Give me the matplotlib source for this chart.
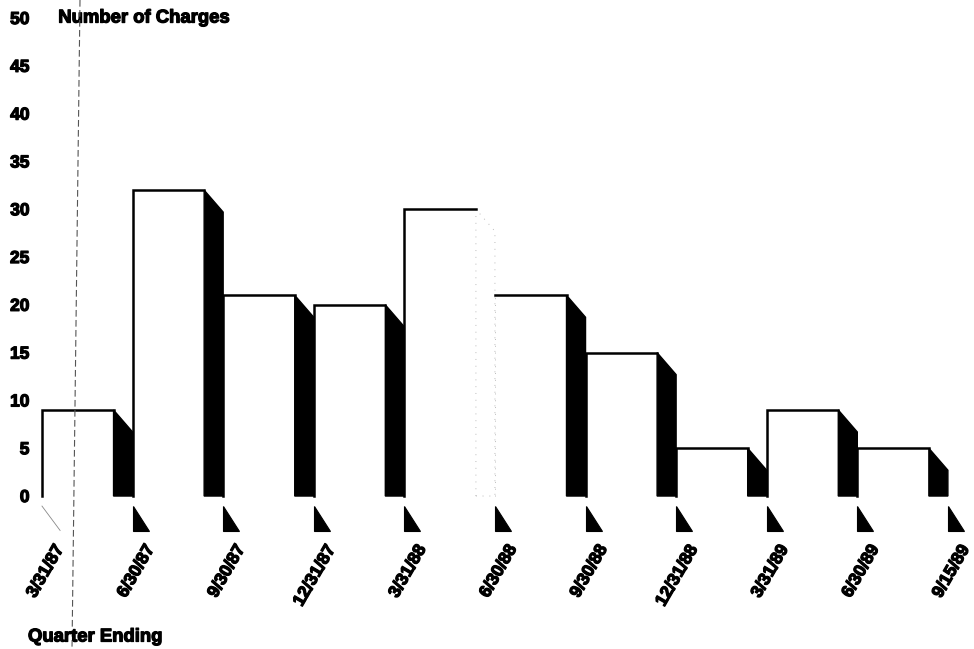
import matplotlib.pyplot as plt
import matplotlib.patheffects as pe
from matplotlib.lines import Line2D
from matplotlib.patches import Polygon

quarters = ['3/31/87', '6/30/87', '9/30/87', '12/31/87', '3/31/88', '6/30/88',
            '9/30/88', '12/31/88', '3/31/89', '6/30/89', '9/15/89']
charges = [9, 32, 21, 20, 30, 21, 15, 5, 9, 5]
y_ticks = [0, 5, 10, 15, 20, 25, 30, 35, 40, 45, 50]

# bar geometry in quarter units
FRONT = 0.79
DROP = 2.3
FLOOR_TOP, FLOOR_BOT, FLOOR_W = -1.05, -3.7, 0.177
faded_sides = {4}  # side face of the 3/31/88 bar barely printed

plt.rcParams['font.family'] = ['Liberation Sans', 'DejaVu Sans']
plt.rcParams['font.weight'] = 'bold'
heavy = [pe.withStroke(linewidth=0.9, foreground='black')]

fig = plt.figure(figsize=(9.74, 6.49), dpi=100)
ax = fig.add_axes([0.0431, 0.2357, 0.958, 0.7365])
ax.set_xlim(0, 10.3)
ax.set_ylim(0, 50)
for s in ax.spines.values():
    s.set_visible(False)
ax.set_xticks([])
ax.set_yticks(y_ticks)
ax.tick_params(axis='y', length=0, pad=9, labelsize=12.5)
for lbl in ax.get_yticklabels():
    lbl.set_fontweight('bold')
    lbl.set_path_effects(heavy)

for i, h in enumerate(charges):
    x0, x1, x2 = i, i + FRONT, i + 1
    if i - 1 in faded_sides:
        ax.plot([x0, x0], [0, h], color='#bbbbbb', lw=0.7, ls=(0, (1, 6)), clip_on=False)
        ax.plot([x0, x1], [h, h], color='black', lw=1.8, clip_on=False)
    else:
        ax.plot([x0, x0, x1], [0, h, h], color='black', lw=1.8,
                solid_joinstyle='miter', clip_on=False)
    side = [(x1, 0), (x1, h), (x2, h - DROP), (x2, 0)]
    if i in faded_sides:
        ax.add_patch(Polygon(side, closed=True, fc='white', ec='#bbbbbb',
                             lw=0.7, ls=(0, (1, 6)), clip_on=False))
    else:
        ax.add_patch(Polygon(side, closed=True, fc='black', ec='black',
                             lw=1.0, clip_on=False))

# floor shadows under each quarter boundary
ax.plot([0, 0.2], [FLOOR_TOP, FLOOR_BOT + 0.1], color='#888888', lw=0.6, clip_on=False)
for b in range(1, len(quarters)):
    ax.add_patch(Polygon([(b, FLOOR_TOP), (b, FLOOR_BOT), (b + FLOOR_W, FLOOR_BOT)],
                         closed=True, fc='black', ec='black', lw=0.8, clip_on=False))

for b, q in enumerate(quarters):
    ax.text(b + 0.2, -5.25, q, rotation=60, rotation_mode='anchor', ha='right',
            va='center', fontsize=12.5, fontweight='bold', clip_on=False,
            path_effects=heavy)

ax.text(0.18, 50, 'Number of Charges', va='center', ha='left',
        fontsize=13.3, fontweight='bold', path_effects=heavy)
fig.text(28 / 974, 1 - 637 / 649, 'Quarter Ending', va='center', ha='left',
         fontsize=13.3, fontweight='bold', path_effects=heavy)

# fold line running down the page
fig.add_artist(Line2D([80 / 974, 72 / 974], [1, 0], transform=fig.transFigure,
                      color='#555555', lw=0.8, ls=(0, (6, 3))))

fig.savefig('out.png', dpi=100)
